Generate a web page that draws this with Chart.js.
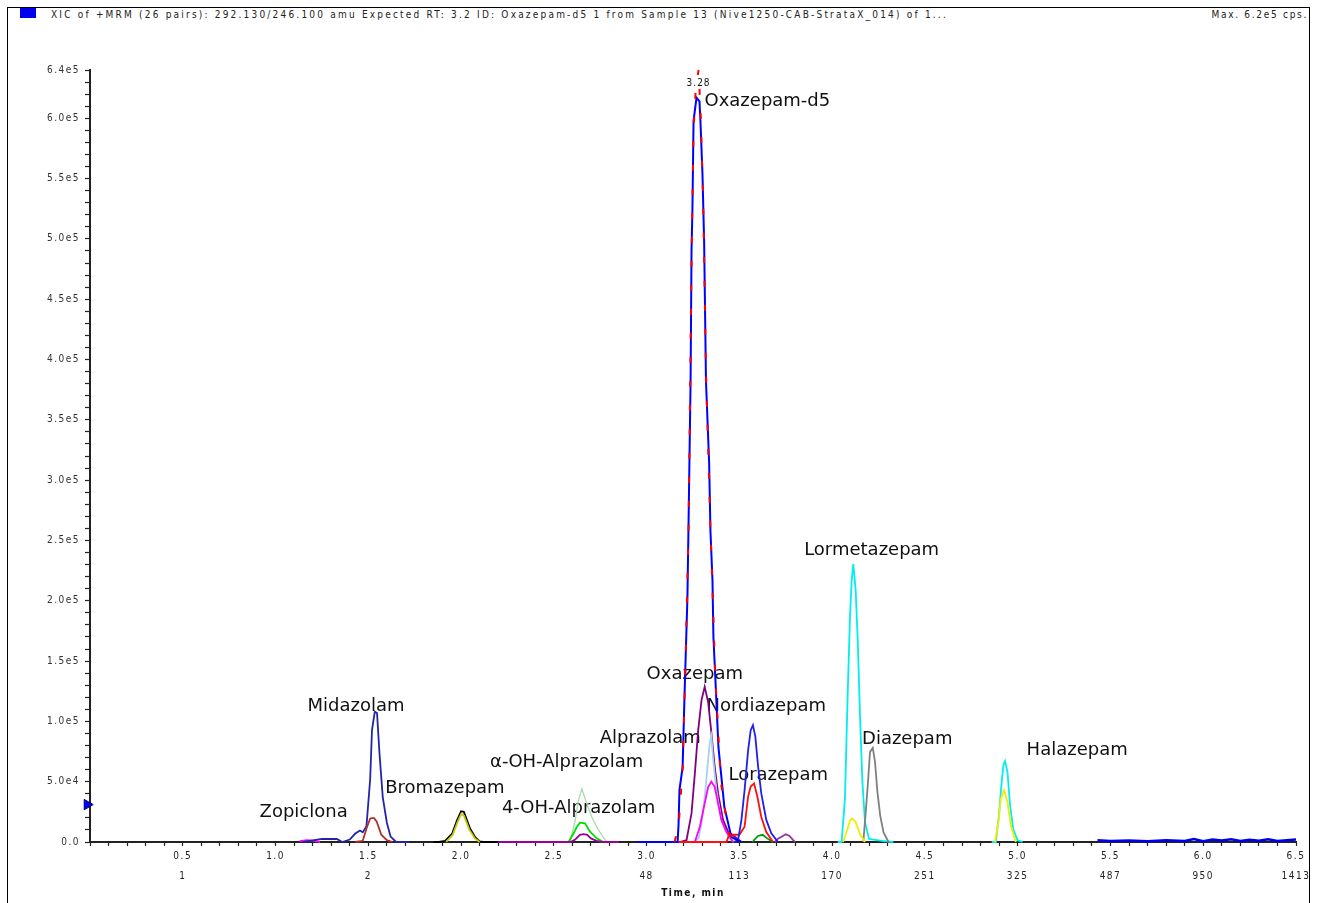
<!DOCTYPE html>
<html>
<head>
<meta charset="utf-8">
<script src="https://cdn.jsdelivr.net/npm/chart.js@4.4.1/dist/chart.umd.min.js"></script>
<style>
  html, body { margin:0; padding:0; background:#fff; }
  #wrap { position:relative; width:1320px; height:903px; overflow:hidden; }
  #frame { position:absolute; left:7px; top:7px; width:1301px; height:910px; border:1px solid #000; border-bottom:none; }
  #sq { position:absolute; left:20px; top:8px; width:16px; height:10px; background:#0000ee; }
  .hdr { position:absolute; top:9px; font:10px "DejaVu Sans Condensed","DejaVu Sans",sans-serif; color:#222; letter-spacing:2.2px; white-space:nowrap; }
  #hdrL { left:51px; }
  #hdrR { right:12px; letter-spacing:1.7px; }
  canvas { position:absolute; left:0; top:0; }
</style>
</head>
<body>
<div id="wrap">
  <div id="frame"></div>
  <div id="sq"></div>
  <div class="hdr" id="hdrL">XIC of +MRM (26 pairs): 292.130/246.100 amu Expected RT: 3.2 ID: Oxazepam-d5 1 from Sample 13 (Nive1250-CAB-StrataX_014) of 1...</div>
  <div class="hdr" id="hdrR">Max. 6.2e5 cps.</div>
  <canvas id="chrom" width="1320" height="903"></canvas>
</div>
<script>
// chromatogram traces: retention time (min) / intensity (cps)

// axis tick labels
const timeLabels = ['0.5','1.0','1.5','2.0','2.5','3.0','3.5','4.0','4.5','5.0','5.5','6.0','6.5'];
const scanLabels = ['1','','2','','','48','113','170','251','325','487','950','1413'];

// Oxazepam-d5 (IS) - two channels
const d5BlueT = [2.95, 3.10, 3.167, 3.172, 3.177, 3.194, 3.204, 3.220, 3.226, 3.237, 3.242, 3.247, 3.253, 3.269, 3.285, 3.290, 3.301, 3.310, 3.320, 3.337, 3.344, 3.355, 3.360, 3.371, 3.387, 3.419, 3.457, 3.51];
const d5BlueI = [0, 0, 0, 14000, 43000, 62000, 120000, 203000, 264000, 382000, 490000, 525000, 598000, 617000, 614000, 598000, 554000, 498000, 382000, 314000, 258000, 217000, 170000, 134000, 79000, 29000, 4000, 0];
const d5RedT = [3.15, 3.172, 3.194, 3.210, 3.226, 3.242, 3.253, 3.265, 3.280, 3.292, 3.305, 3.320, 3.344, 3.371, 3.40, 3.44, 3.48];
const d5RedI = [0, 12000, 60000, 150000, 260000, 480000, 590000, 625000, 640000, 600000, 530000, 390000, 260000, 135000, 50000, 8000, 0];

// Zopiclona (baseline only)
const zopT = [1.13, 1.17, 1.20, 1.24];
const zopI = [800, 1500, 1200, 0];

// Midazolam
const midT = [1.15, 1.25, 1.33, 1.36, 1.40, 1.43, 1.455, 1.47, 1.49, 1.51, 1.52, 1.535, 1.547, 1.56, 1.578, 1.60, 1.62, 1.65, 1.72];
const midI = [0, 2500, 2500, 0, 2000, 7000, 9500, 8000, 13000, 52000, 93000, 108000, 107000, 74000, 37000, 16000, 4500, 0, 0];
const mid2T = [1.43, 1.47, 1.492, 1.51, 1.53, 1.545, 1.57, 1.60, 1.63];
const mid2I = [0, 1000, 12000, 19500, 20000, 17000, 6000, 1500, 0];

// Bromazepam
const bromT = [1.85, 1.88, 1.914, 1.952, 1.978, 2.0, 2.015, 2.049, 2.076, 2.10, 2.12, 2.20];
const bromI = [0, 0, 1000, 7000, 18000, 25500, 25000, 11000, 4000, 500, 0, 0];
const brom2T = [1.92, 1.955, 1.98, 2.0, 2.015, 2.045, 2.075, 2.10];
const brom2I = [0, 6000, 16000, 23000, 22000, 10000, 3000, 0];

// alpha-OH-Alprazolam / 4-OH-Alprazolam
const aohT = [2.588, 2.615, 2.633, 2.651, 2.677, 2.704, 2.731, 2.758, 2.785];
const aohI = [0, 18000, 35000, 44000, 32000, 21000, 12500, 5800, 0];
const ohT = [2.579, 2.606, 2.624, 2.641, 2.668, 2.695, 2.731, 2.767];
const ohI = [0, 7000, 12600, 16000, 15500, 8500, 3000, 0];
const ohPurT = [2.15, 2.40, 2.59, 2.615, 2.64, 2.66, 2.68, 2.70, 2.73, 2.76, 2.85];
const ohPurI = [0, 0, 0, 2000, 6000, 6500, 6000, 3000, 1000, 0, 0];

// Oxazepam / Alprazolam cluster
const oxaT = [3.18, 3.215, 3.242, 3.260, 3.278, 3.296, 3.313, 3.332, 3.349, 3.367, 3.385, 3.412, 3.439, 3.475, 3.511];
const oxaI = [0, 1500, 23700, 56800, 92700, 117600, 128600, 115500, 90600, 62500, 40500, 18300, 8600, 4400, 0];
const alpT = [3.258, 3.28, 3.296, 3.313, 3.328, 3.340, 3.349, 3.358, 3.376, 3.403, 3.439, 3.47];
const alpI = [0, 3000, 15000, 37000, 62000, 82000, 88000, 70000, 43000, 18000, 4000, 0];
const magT = [3.260, 3.287, 3.313, 3.332, 3.349, 3.367, 3.385, 3.403, 3.430, 3.466];
const magI = [0, 12700, 32000, 45800, 50000, 45800, 32000, 18300, 8600, 0];

// Nordiazepam / Lorazepam
const nordT = [3.47, 3.493, 3.511, 3.528, 3.547, 3.561, 3.573, 3.586, 3.601, 3.618, 3.645, 3.672, 3.708];
const nordI = [0, 1500, 18300, 43000, 76000, 92700, 96900, 87400, 62300, 40300, 18300, 7200, 0];
const lorT = [3.15, 3.43, 3.445, 3.50, 3.528, 3.547, 3.561, 3.579, 3.597, 3.618, 3.645, 3.681];
const lorI = [0, 0, 6000, 6000, 12700, 37500, 46000, 48600, 37500, 20700, 8300, 0];
const grnT = [3.57, 3.60, 3.625, 3.65, 3.68];
const grnI = [0, 5000, 6000, 3000, 0];
const purT = [3.69, 3.71, 3.73, 3.75, 3.77, 3.79, 3.80];
const purI = [0, 3000, 4500, 6500, 5000, 1500, 0];

// Lormetazepam / Diazepam
const lmtT = [4.03, 4.051, 4.069, 4.083, 4.096, 4.105, 4.114, 4.127, 4.138, 4.150, 4.163, 4.177, 4.199, 4.268, 4.33];
const lmtI = [0, 0, 36000, 119000, 186000, 216500, 230500, 208000, 166600, 105400, 49700, 16400, 2500, 1000, 0];
const lmtYT = [4.059, 4.083, 4.096, 4.108, 4.127, 4.150, 4.177];
const lmtYI = [0, 10800, 17700, 19700, 16400, 6600, 0];
const diaT = [4.168, 4.181, 4.192, 4.204, 4.219, 4.231, 4.244, 4.259, 4.277, 4.304];
const diaI = [0, 24800, 47100, 74700, 78000, 66400, 41400, 21900, 8000, 0];

// Halazepam
const halT = [4.86, 4.882, 4.899, 4.912, 4.923, 4.932, 4.945, 4.959, 4.976, 4.999, 5.026];
const halI = [0, 0, 22000, 47100, 63900, 67000, 58000, 30300, 10800, 1500, 0];
const halYT = [4.878, 4.896, 4.909, 4.927, 4.945, 4.963, 4.990];
const halYI = [0, 16400, 35800, 42800, 33100, 13600, 0];

// late baseline noise
const noiseT = [5.43, 5.5, 5.6, 5.7, 5.8, 5.9, 5.95, 6.0, 6.05, 6.1, 6.15, 6.2, 6.25, 6.3, 6.35, 6.4, 6.45, 6.5];
const noiseI = [1500, 800, 1200, 600, 1500, 900, 2500, 700, 2000, 1200, 2200, 800, 1800, 1000, 2300, 900, 1500, 2000];

// threshold marker on the y axis
const markerT = [-0.015];
const markerI = [31000];

// peak annotations (text, time of left edge, intensity of text middle)
const peakNames = ['Zopiclona','Midazolam','Bromazepam','\u03B1-OH-Alprazolam','4-OH-Alprazolam','Alprazolam','Oxazepam','Nordiazepam','Lorazepam','Lormetazepam','Diazepam','Halazepam','Oxazepam-d5'];
const peakNameT = [0.914, 1.172, 1.591, 2.156, 2.220, 2.747, 3.000, 3.323, 3.441, 3.849, 4.161, 5.048, 3.312];
const peakNameI = [24800, 112600, 44700, 66200, 28100, 86100, 139100, 112600, 55500, 241700, 85300, 76200, 614200];
const apexText = '3.28';
const apexT = 3.28;
const apexI = 629100;

function pts(ts, vs){ return ts.map((t,i)=>({x:t, y:vs[i]})); }
function trace(ts, vs, color, extra){
  return Object.assign({data: pts(ts, vs), borderColor: color, borderWidth: 1.8, pointRadius: 0, tension: 0, fill: false, clip: false}, extra||{});
}

function sci(v){
  if(v === 0) return '0.0';
  const e = Math.floor(Math.log10(v) + 1e-9);
  return (v/Math.pow(10,e)).toFixed(1) + 'e' + e;
}

const spacing = {
  id: 'spacing',
  beforeDraw(chart){ chart.ctx.letterSpacing = '1.5px'; }
};

const peakLabels = {
  id: 'peakLabels',
  beforeDatasetsDraw(chart){
    const {ctx, scales:{x, y}} = chart;
    ctx.save();
    ctx.letterSpacing = '0px';
    ctx.fillStyle = '#111';
    ctx.font = '18px "DejaVu Sans", sans-serif';
    ctx.textAlign = 'left';
    ctx.textBaseline = 'middle';
    peakNames.forEach((n,i)=>{
      ctx.fillText(n, x.getPixelForValue(peakNameT[i]), y.getPixelForValue(peakNameI[i]));
    });
    ctx.font = '10px "DejaVu Sans Condensed", "DejaVu Sans", sans-serif';
    ctx.letterSpacing = '1px';
    ctx.textAlign = 'center';
    ctx.fillText(apexText, x.getPixelForValue(apexT), y.getPixelForValue(apexI));
    ctx.restore();
  }
};

const tickFont = {family: '"DejaVu Sans Condensed", "DejaVu Sans", sans-serif', size: 10};

new Chart(document.getElementById('chrom').getContext('2d'), {
  type: 'line',
  data: {
    datasets: [
      trace(d5RedT, d5RedI, '#ff0000', {borderDash: [6, 18], borderWidth: 2}),
      trace(d5BlueT, d5BlueI, '#0000ff', {borderWidth: 2}),
      trace(nordT, nordI, '#2020ee'),
      trace(lorT, lorI, '#ff1010'),
      trace(magT, magI, '#ff00ff'),
      trace(alpT, alpI, '#a8d0f0'),
      trace(oxaT, oxaI, '#800080'),
      trace(grnT, grnI, '#009900'),
      trace(purT, purI, '#993399'),
      trace(mid2T, mid2I, '#b0302a'),
      trace(midT, midI, '#2424a8'),
      trace(brom2T, brom2I, '#c8c800'),
      trace(bromT, bromI, '#000000'),
      trace(ohPurT, ohPurI, '#990099'),
      trace(ohT, ohI, '#00dd00'),
      trace(aohT, aohI, '#a8dca8', {borderWidth: 1.3}),
      trace(lmtYT, lmtYI, '#eeee00'),
      trace(diaT, diaI, '#808080'),
      trace(lmtT, lmtI, '#00eeee'),
      trace(halYT, halYI, '#eeee00'),
      trace(halT, halI, '#00eeee'),
      trace(noiseT, noiseI, '#0000ee', {borderWidth: 2.5}),
      trace(zopT, zopI, '#ff00ff'),
      {type: 'scatter', data: pts(markerT, markerI), pointStyle: 'triangle', rotation: 90, pointRadius: 6,
       backgroundColor: '#0000ee', borderColor: '#000080', borderWidth: 1, clip: false, showLine: false}
    ]
  },
  options: {
    responsive: false,
    devicePixelRatio: 1,
    animation: false,
    events: [],
    layout: {padding: {left: 0, top: 70, right: 24, bottom: 0}},
    plugins: {legend: {display: false}, tooltip: {enabled: false}},
    scales: {
      x: {
        type: 'linear', min: 0, max: 6.5,
        afterFit(s){ s.height = 61; },
        border: {display: true, color: '#222', width: 2},
        grid: {display: true, drawOnChartArea: false, drawTicks: true, tickLength: 4, tickColor: '#222', tickWidth: 1.2},
        ticks: {
          stepSize: 0.1, autoSkip: false, maxRotation: 0, minRotation: 0, padding: 0,
          color: '#222', font: Object.assign({lineHeight: 2}, tickFont),
          callback(v){
            const k = Math.round(v*10);
            if(k === 0 || k % 5 !== 0) return '';
            const idx = k/5 - 1;
            return scanLabels[idx] ? [timeLabels[idx], scanLabels[idx]] : timeLabels[idx];
          }
        },
        title: {display: true, text: 'Time, min', color: '#111', padding: {top: 0, bottom: 4},
                font: {family: tickFont.family, size: 10, weight: 'bold'}}
      },
      y: {
        type: 'linear', min: 0, max: 640000,
        afterFit(s){ s.width = 90; },
        border: {display: true, color: '#222', width: 2},
        grid: {display: true, drawOnChartArea: false, drawTicks: true, tickLength: 5, tickColor: '#222', tickWidth: 1.2},
        ticks: {
          stepSize: 10000, autoSkip: false, padding: 5, color: '#333', font: tickFont,
          callback(v){ return (v % 50000 === 0 || v === 640000) ? sci(v) : ''; }
        }
      }
    }
  },
  plugins: [spacing, peakLabels]
});
</script>
</body>
</html>
